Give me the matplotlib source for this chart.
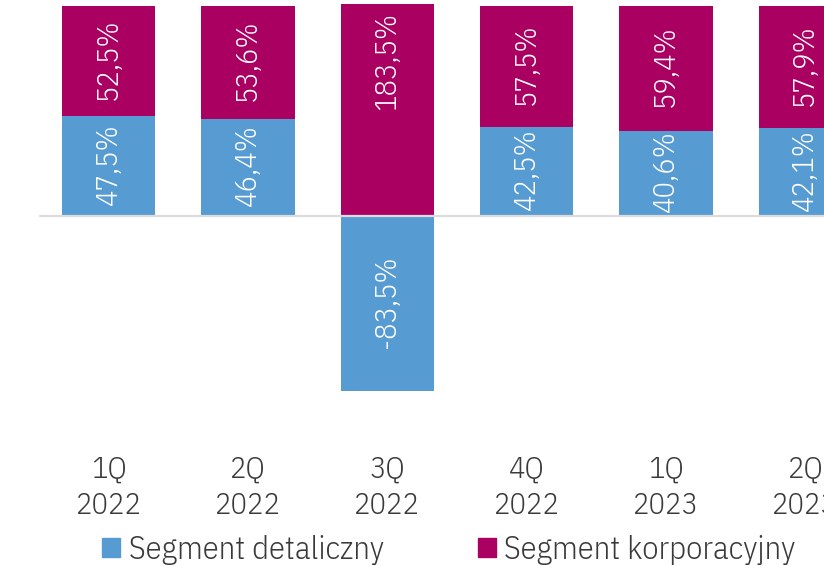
import matplotlib
matplotlib.use("Agg")
import matplotlib.pyplot as plt
from matplotlib.patches import Patch

categories = ["1Q\n2022", "2Q\n2022", "3Q\n2022", "4Q\n2022", "1Q\n2023", "2Q\n2023"]
retail = [47.5, 46.4, -83.5, 42.5, 40.6, 42.1]
corporate = [52.5, 53.6, 183.5, 57.5, 59.4, 57.9]
series_names = ["Segment detaliczny", "Segment korporacyjny"]

BLUE = "#579BD3"
MAGENTA = "#AA0061"
TEXT = "#3a3a3a"
FONT = ["IBM Plex Sans Condensed", "DejaVu Sans"]
plt.rcParams["font.family"] = FONT
plt.rcParams["font.weight"] = 300
FS = 22

W, H = 824, 566
fig = plt.figure(figsize=(W / 100, H / 100), dpi=100)
ax = fig.add_axes([39 / W, 1 - 430 / H, 836 / W, 426 / H])
ymin, ymax = -102, 101
ax.set_ylim(ymin, ymax)
ax.set_xlim(-0.5, len(categories) - 0.5)

x = list(range(len(categories)))
width = 0.67
corp_bottom = [max(r, 0) for r in retail]
ax.bar(x, retail, width=width, color=BLUE, zorder=2)
ax.bar(x, corporate, width=width, bottom=corp_bottom, color=MAGENTA, zorder=2)


def fmt(v):
    return f"{v:.1f}%".replace(".", ",")


def label(xi, lo, hi, v):
    a, b = sorted((lo, hi))
    if b > ymax:
        ax.text(xi, ymax - 4.0, fmt(v), rotation=90, ha="center", va="top",
                color="white", fontsize=FS, zorder=4)
    else:
        a = max(a, ymin)
        ax.text(xi, (a + b) / 2 + 1.0, fmt(v), rotation=90, ha="center", va="center",
                color="white", fontsize=FS, zorder=4)


for xi, r, c, cb in zip(x, retail, corporate, corp_bottom):
    label(xi, 0, r, r)
    label(xi, cb, cb + c, c)

ax.axhline(0, color="#dcdcdc", lw=1.6, zorder=3)

for s in ax.spines.values():
    s.set_visible(False)
ax.set_yticks([])
ax.set_xticks(x)
ax.set_xticklabels(categories, fontsize=FS, color=TEXT, linespacing=1.38)
ax.tick_params(axis="x", length=0, pad=18.5)

handles = [Patch(color=BLUE), Patch(color=MAGENTA)]
fig.legend(handles, series_names, loc="center", bbox_to_anchor=(449 / W, 1 - 550 / H),
           ncol=2, frameon=False, fontsize=23.5, handlelength=0.55, handleheight=0.55,
           handletextpad=0.25, columnspacing=2.9, labelcolor=TEXT, borderpad=0,
           borderaxespad=0)

fig.savefig("out.png", dpi=100)
